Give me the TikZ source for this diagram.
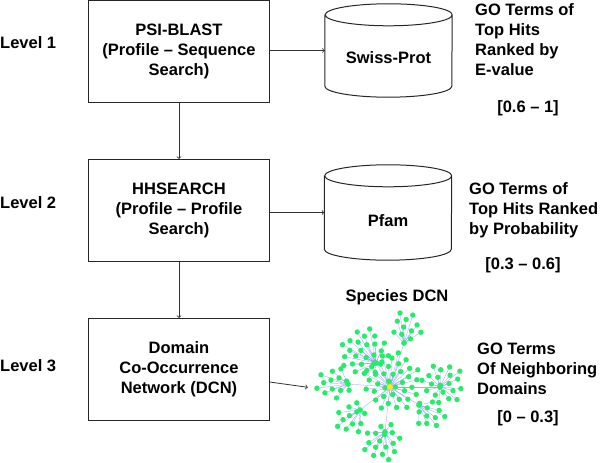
\documentclass[tikz,border=0pt]{standalone}
\usepackage{fontspec}
\setmainfont{Liberation Sans}
\usetikzlibrary{positioning}
\definecolor{leafgreen}{RGB}{40,235,110}
\definecolor{hubyellow}{RGB}{250,235,20}
\definecolor{edgeblue}{RGB}{110,110,245}
\pgfdeclarelayer{edges}
\pgfsetlayers{edges,main}
% draws a database drum round a (blank) node
\newcommand{\dbdraw}[1]{%
  \draw[dbline] ([yshift=-11pt]#1.north west) -- ([yshift=11pt]#1.south west)
    arc[start angle=180,end angle=360,x radius=63.5pt,y radius=11pt]
    -- ([yshift=-11pt]#1.north east)
    arc[start angle=0,end angle=360,x radius=63.5pt,y radius=11pt];}

\begin{document}
\begin{tikzpicture}[x=1pt,y=1pt,
   every node/.style={font=\bfseries\fontsize{16.5}{20}\selectfont},
   box/.style={draw=black!85,line width=1pt,minimum width=181pt,minimum height=102pt,
     align=center,inner sep=0pt},
   db/.style={minimum width=127pt,inner sep=0pt},
   dbline/.style={draw=black!85,line width=1pt},
   flow/.style={->,draw=black!80,line width=0.8pt},
   golist/.style={anchor=west,align=left,inner sep=0pt},
   leaf/.style={fill=leafgreen},
   netedge/.style={draw=edgeblue,opacity=0.6,line width=0.35pt}]
\useasboundingbox (0,0) rectangle (600,463);

% levels
\node[anchor=west,inner sep=0pt] (lev1) at (0,420) {Level 1};
\node[anchor=west,inner sep=0pt] (lev2) at (0,260) {Level 2};
\node[anchor=west,inner sep=0pt] (lev3) at (0,97) {Level 3};

% search steps
\node[box] (psi) at (179,411.5) {PSI-BLAST\\(Profile -- Sequence\\Search)};
\node[box,below=56pt of psi] (hhs) {HHSEARCH\\(Profile -- Profile\\Search)};
\node[box,below=56pt of hhs] (dom) {Domain\\Co-Occurrence\\Network (DCN)};

% databases
\node[db,minimum height=93pt,label={[yshift=-7pt]center:Swiss-Prot}] (swiss) at (388.5,412.5) {};
\node[db,minimum height=95pt,label={[yshift=-8pt]center:Pfam}] (pfam) at (388,250.5) {};
\dbdraw{swiss}
\dbdraw{pfam}
\node[minimum width=152pt,minimum height=147pt,inner sep=0pt] (dcn) at (389,75) {};
\node (spec) at (397,166) {Species DCN};

\draw[flow] (psi) -- (hhs);
\draw[flow] (hhs) -- (dom);
\draw[flow] (psi.east |- swiss.west) -- (swiss.west);
\draw[flow] (hhs.east |- pfam.west) -- (pfam.west);
\draw[flow,shorten >=5pt] (dom) -- (dcn.west);

% GO terms
\node[golist] (go1) at (475,423) {GO Terms of\\Top Hits\\Ranked by\\E-value};
\node (rng1) at (528,355) {[0.6 -- 1]};
\node[golist] (go2) at (469,253) {GO Terms of\\Top Hits Ranked\\by Probability};
\node (rng2) at (523,198) {[0.3 -- 0.6]};
\node[golist] (go3) at (477,94) {GO Terms\\Of Neighboring\\Domains};
\node (rng3) at (528,45) {[0 -- 0.3]};

% the network: hub / cluster centre / radius / leaves
\foreach \hx/\hy/\cx/\cy/\r/\n in {404/120/407/136/16/11, 376/100/364/111/25/26,
    348/79/333/80/18/13, 440/76/443/80/22/20, 419/58/430/48/16/11,
    385/31/383/21/20/17, 360/53/352/45/17/12, 390/76/392/81/30/37}{
  \begin{pgfonlayer}{edges}
    \draw[netedge] (390,76) -- (\hx,\hy);
  \end{pgfonlayer}
  \foreach \k in {1,...,\n}{
    \pgfmathsetmacro\ang{137.508*\k+\hx}
    \pgfmathsetmacro\rad{\r*sqrt((\k-0.5)/\n)}
    \begin{pgfonlayer}{edges}
      \draw[netedge] (\hx,\hy) -- ([shift={(\ang:\rad)}]\cx,\cy);
    \end{pgfonlayer}
    \fill[leaf] ([shift={(\ang:\rad)}]\cx,\cy) circle (2.7);
  }
  \fill[leaf] (\hx,\hy) circle (2.9);
}
\fill[hubyellow] (390,76) circle (3);
\end{tikzpicture}
\end{document}
